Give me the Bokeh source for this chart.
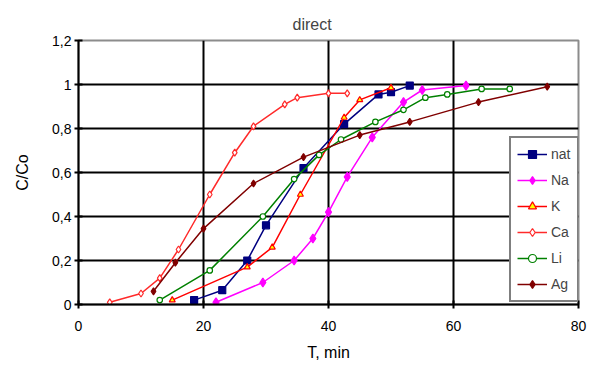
from bokeh.plotting import figure
from bokeh.models import FixedTicker, CustomJSTickFormatter, Range1d, Title
from bokeh.embed import file_html
from bokeh.resources import INLINE

# ---- data ----
nat_x = [18.5, 23, 27, 30, 36, 42.5, 48, 50, 53]
nat_y = [0.02, 0.065, 0.2, 0.36, 0.62, 0.82, 0.955, 0.965, 0.995]

na_x = [22, 29.5, 34.5, 37.5, 40, 43, 47, 52, 55, 62]
na_y = [0.01, 0.10, 0.20, 0.30, 0.42, 0.58, 0.76, 0.92, 0.975, 0.995]

k_x = [15, 27, 31, 35.5, 42.5, 45, 50]
k_y = [0.02, 0.17, 0.26, 0.50, 0.85, 0.93, 0.985]

ca_x = [5, 10, 13, 16, 21, 25, 28, 33, 35, 40, 43]
ca_y = [0.01, 0.05, 0.12, 0.25, 0.50, 0.69, 0.81, 0.91, 0.94, 0.96, 0.96]

li_x = [13, 21, 29.5, 34.5, 38.5, 42, 47.5, 52, 55.5, 59, 64.5, 69]
li_y = [0.02, 0.155, 0.40, 0.57, 0.68, 0.75, 0.83, 0.885, 0.94, 0.955, 0.98, 0.98]

ag_x = [12, 15.5, 20, 28, 36, 45, 53, 64, 75]
ag_y = [0.06, 0.19, 0.345, 0.55, 0.67, 0.77, 0.83, 0.92, 0.99]

x_ticks = [0, 20, 40, 60, 80]
y_ticks = [0, 0.2, 0.4, 0.6, 0.8, 1.0, 1.2]

FONT = "Liberation Sans"

p = figure(width=590, height=367, output_backend="svg", toolbar_location=None,
           x_range=Range1d(0, 80), y_range=Range1d(0, 1.2),
           min_border_left=78, min_border_right=12, min_border_top=40,
           min_border_bottom=63)
p.title = None
p.add_layout(Title(text="direct", text_font=FONT, text_font_size="16px",
                   text_font_style="normal", align="left", offset=214,
                   standoff=16), "above")

p.outline_line_color = "#8c8c8c"
p.outline_line_width = 2
p.background_fill_color = "white"
p.border_fill_color = "white"

p.xaxis.ticker = FixedTicker(ticks=x_ticks)
p.yaxis.ticker = FixedTicker(ticks=y_ticks)
p.yaxis.formatter = CustomJSTickFormatter(
    code="return tick.toFixed(1).replace('.', ',').replace(',0', '');")

for ax in (p.xaxis[0], p.yaxis[0]):
    ax.axis_line_color = "black"
    ax.axis_line_width = 2
    ax.major_tick_line_color = "black"
    ax.major_tick_line_width = 2
    ax.major_tick_in = 4
    ax.major_tick_out = 4
    ax.minor_tick_line_color = None
    ax.major_label_text_font = FONT
    ax.major_label_text_font_size = "14px"
    ax.major_label_text_color = "black"
    ax.axis_label_text_font = FONT
    ax.axis_label_text_font_size = "16px"
    ax.axis_label_text_font_style = "normal"
    ax.axis_label_text_color = "black"

p.xaxis.axis_label = "T, min"
p.yaxis.axis_label = "C/Co"
p.xaxis.major_label_standoff = 12
p.xaxis.axis_label_standoff = 10
p.yaxis.major_label_standoff = 3
p.yaxis.axis_label_standoff = 18

p.xgrid.grid_line_color = "black"
p.xgrid.grid_line_width = 2
p.ygrid.grid_line_color = "black"
p.ygrid.grid_line_width = 2

series = [
    ("nat", nat_x, nat_y, "#000080", "square", "#000080", 7),
    ("Na", na_x, na_y, "#ff00ff", "diamond", "#ff00ff", 9),
    ("K", k_x, k_y, "#ff0000", "triangle", "#ffff00", 6),
    ("Ca", ca_x, ca_y, "#ff2a2a", "diamond", "white", 7),
    ("Li", li_x, li_y, "#008000", "circle", "white", 5.5),
    ("Ag", ag_x, ag_y, "#800000", "diamond", "#800000", 7),
]

for name, xs, ys, col, mk, fill, sz in series:
    p.line(xs, ys, line_color=col, line_width=1.5, legend_label=name)
    p.scatter(xs, ys, marker=mk, size=sz, line_color=col, fill_color=fill,
              line_width=1.2, legend_label=name)

lg = p.legend[0]
lg.location = (431, 2)
lg.border_line_color = "black"
lg.border_line_width = 2
lg.background_fill_color = "white"
lg.background_fill_alpha = 1
lg.label_text_font = FONT
lg.label_text_font_size = "14px"
lg.glyph_height = 20
lg.glyph_width = 30
lg.label_height = 20
lg.spacing = 6
lg.padding = 6
lg.margin = 0
lg.label_standoff = 4

open("out.html", "w").write(file_html(p, INLINE))
